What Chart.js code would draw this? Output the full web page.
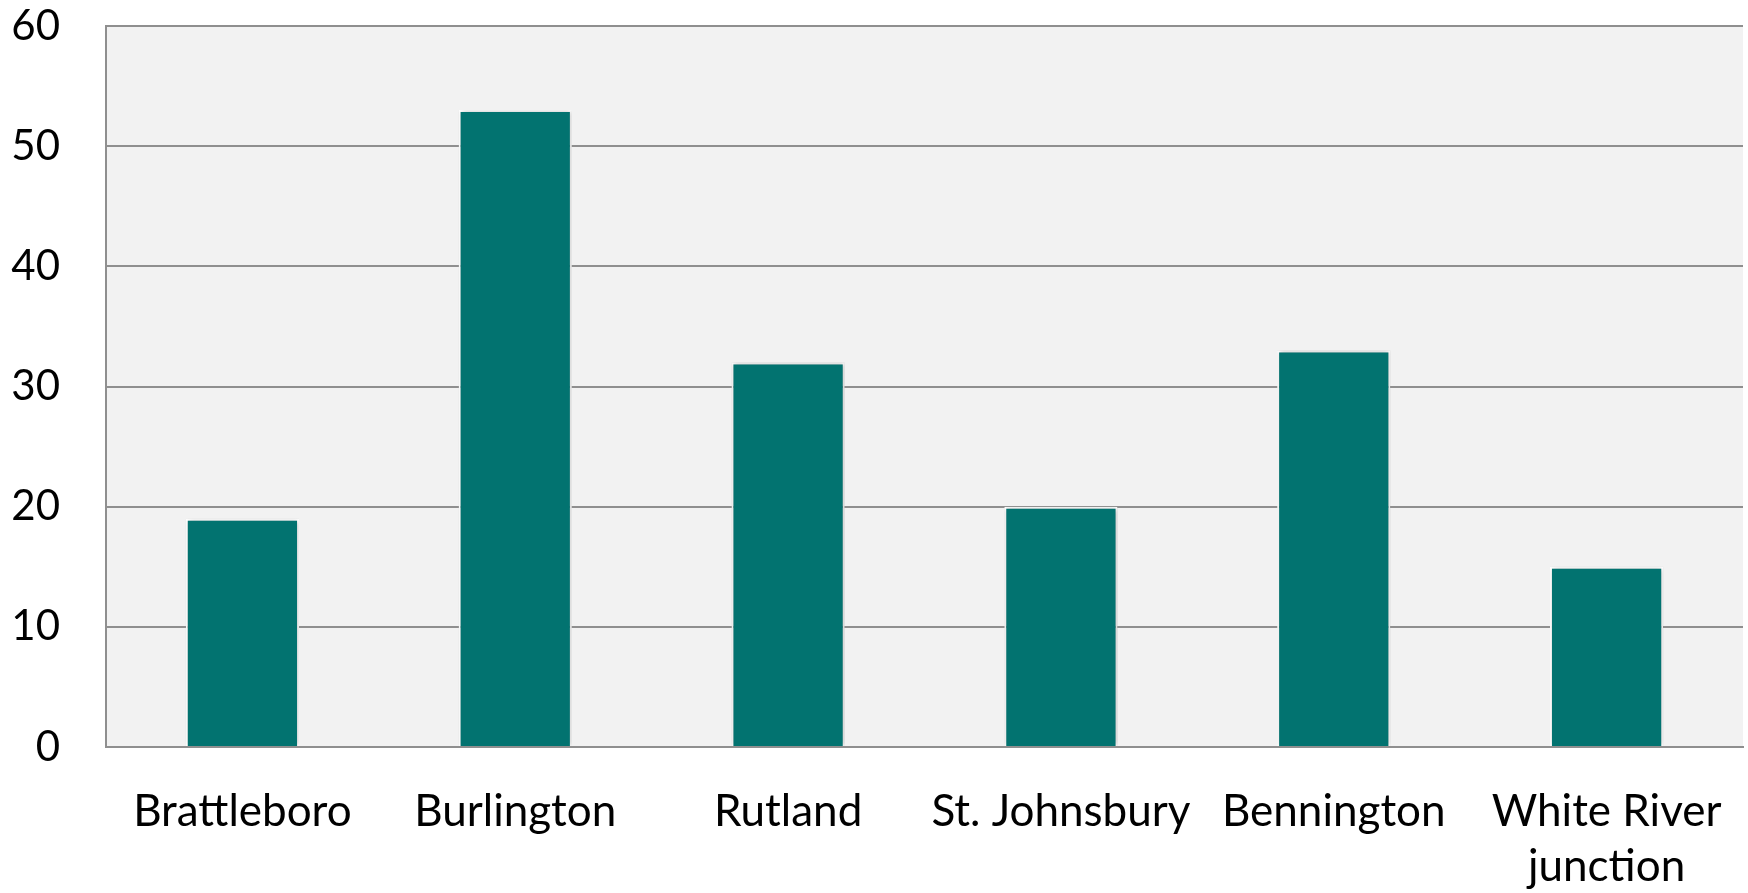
<!DOCTYPE html>
<html>
<head>
<meta charset="utf-8">
<script src="https://cdn.jsdelivr.net/npm/chart.js@4/dist/chart.umd.min.js"></script>
<style>
  html, body { margin: 0; padding: 0; background: #fff; }
  #wrap { width: 1748px; height: 893px; }
</style>
</head>
<body>
<div id="wrap"><canvas id="myChart" width="1748" height="893"></canvas></div>
<script>
// towns and counts
var towns = ['Brattleboro', 'Burlington', 'Rutland', 'St. Johnsbury', 'Bennington', ['White River', 'junction']];
var counts = [19, 53, 32, 20, 33, 15];
var yTicks = [0, 10, 20, 30, 40, 50, 60];

// grey plot area behind the bars
var plotBg = {
    id: 'plotBg',
    beforeDraw: function(chart){
        var a = chart.chartArea;
        var c = chart.ctx;
        c.save();
        c.fillStyle = '#f2f2f2';
        c.fillRect(a.left, a.top, a.right - a.left, a.bottom - a.top);
        c.restore();
    },
    // soft shadow round the bars
    beforeDatasetsDraw: function(chart){
        var c = chart.ctx;
        c.save();
        c.shadowColor = 'rgba(0,0,0,0.25)';
        c.shadowBlur = 5;
        c.shadowOffsetX = 1;
        c.shadowOffsetY = 0;
    },
    afterDatasetsDraw: function(chart){
        chart.ctx.restore();
    }
};

var ctx = document.getElementById('myChart').getContext('2d');
var myChart = new Chart(ctx, {
    type: 'bar',
    data: {
        labels: towns,
        datasets: [{
            data: counts,
            backgroundColor: '#027370',
            borderColor: '#ffffff',
            borderWidth: 2,
            categoryPercentage: 0.415,
            barPercentage: 1
        }]
    },
    plugins: [plotBg],
    options: {
        responsive: false,
        animation: false,
        layout: { padding: { top: 26, right: 5, left: 0, bottom: 0 } },
        plugins: {
            legend: { display: false },
            tooltip: { enabled: false }
        },
        scales: {
            x: {
                grid: { display: false, drawTicks: false },
                border: { color: '#8f8f8f', width: 2 },
                ticks: {
                    color: '#000',
                    font: { family: 'Lato, "Noto Sans", sans-serif', size: 44, lineHeight: 1.25 },
                    padding: 37,
                    maxRotation: 0,
                    autoSkip: false
                },
                afterFit: function(scale){
                    scale.height = 146;
                    scale.paddingLeft = 0;
                    scale.paddingRight = 0;
                }
            },
            y: {
                min: 0,
                max: 60,
                afterBuildTicks: function(scale){
                    scale.ticks = yTicks.map(function(v){ return { value: v }; });
                },
                grid: { color: '#8f8f8f', lineWidth: 2, drawTicks: false },
                border: { color: '#8f8f8f', width: 2 },
                ticks: {
                    color: '#000',
                    font: { family: 'Lato, "Noto Sans", sans-serif', size: 42 },
                    padding: 46
                },
                afterFit: function(scale){
                    scale.width = 106;
                    scale.paddingTop = 0;
                    scale.paddingBottom = 0;
                }
            }
        }
    }
});
</script>
</body>
</html>
